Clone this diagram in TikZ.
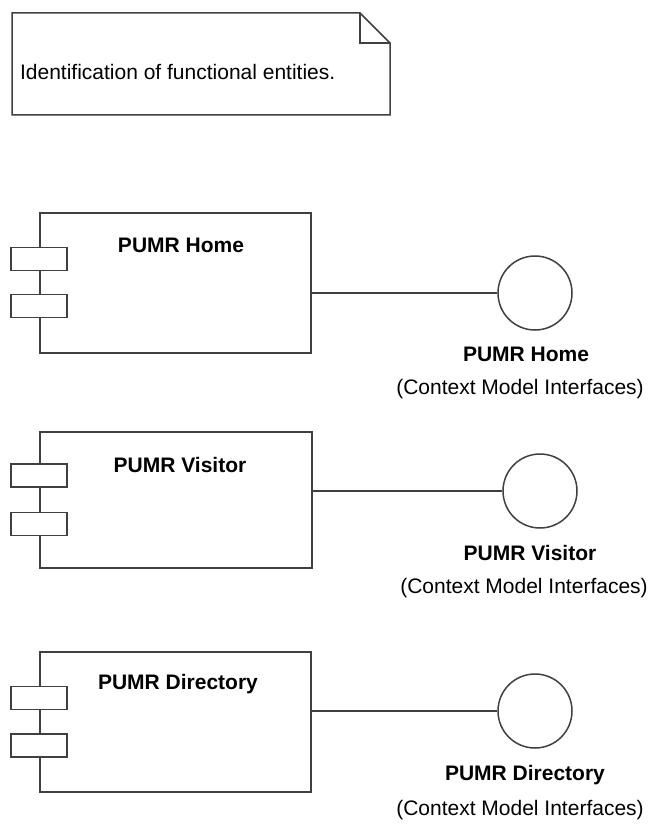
\documentclass[tikz,border=0pt]{standalone}
\usepackage{fontspec}
\setmainfont{Liberation Sans}
\usepackage{xcolor}
\usepackage{tikz}
\usetikzlibrary{calc}

\definecolor{edge}{RGB}{64,64,64}

\begin{document}
\begin{tikzpicture}[
  x=1pt,y=-1pt,
  line width=1.5pt,
  txt/.style={font=\fontsize{21}{25}\selectfont},
  ttl/.style={font=\fontsize{21}{25}\selectfont\bfseries},
  comp/.style={draw=edge,fill=white,minimum width=271pt,minimum height=140pt,inner sep=0pt},
  port/.style={draw=edge,fill=white,minimum width=56pt,minimum height=23pt,inner sep=0pt},
  iface/.style={draw=edge,circle,minimum size=74pt,inner sep=0pt}
]
  \fill[white] (0,0) rectangle (652,824);
  \useasboundingbox (0,0) rectangle (652,824);

  \draw[edge] (12,13) -- (360,13) -- (390,43) -- (390,115) -- (12,115) -- cycle;
  \draw[edge] (360,13) |- (390,43);
  \node[txt,anchor=west] (note) at (16,72) {Identification of functional entities.};

  \node[comp]                    (home)    at (175.5,283) {};
  \node[port]                    (home1)   at (39,259)    {};
  \node[port]                    (home2)   at (39,306)    {};
  \node[ttl]                     (homet)   at (181,245)   {PUMR Home};
  \node[iface]                   (homei)   at (535,293)   {};
  \node[ttl]                     (homel)   at (526,354)   {PUMR Home};
  \node[txt]                     (homec)   at (520,389)   {(Context Model Interfaces)};

  \node[comp,minimum width=272pt,minimum height=136pt] (visit) at (176,500) {};
  \node[port]                    (visit1)  at (39,475.5)  {};
  \node[port]                    (visit2)  at (39,524)    {};
  \node[ttl]                     (visitt)  at (180,465)   {PUMR Visitor};
  \node[iface]                   (visiti)  at (540,491)   {};
  \node[ttl]                     (visitl)  at (530,553)   {PUMR Visitor};
  \node[txt]                     (visitc)  at (524,588)   {(Context Model Interfaces)};

  \node[comp]                    (dir)     at (175.5,722) {};
  \node[port]                    (dir1)    at (39,698)    {};
  \node[port]                    (dir2)    at (39,745.5)  {};
  \node[ttl]                     (dirt)    at (178,684)   {PUMR Directory};
  \node[iface]                   (diri)    at (535,711)   {};
  \node[ttl]                     (dirl)    at (525,775)   {PUMR Directory};
  \node[txt]                     (dirc)    at (520,810)   {(Context Model Interfaces)};

  \draw[edge] (home.east |- homei.west)   -- (homei.west);
  \draw[edge] (visit.east |- visiti.west) -- (visiti.west);
  \draw[edge] (dir.east |- diri.west)     -- (diri.west);
\end{tikzpicture}
\end{document}
